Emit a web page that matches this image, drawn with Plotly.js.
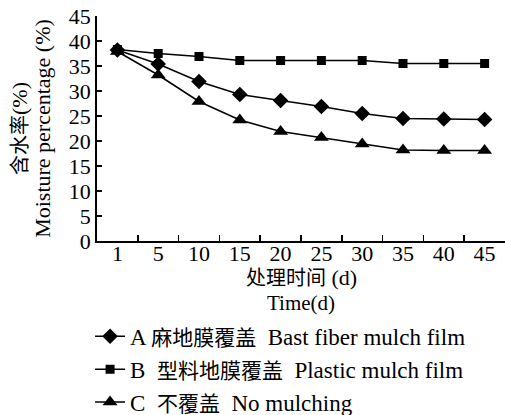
<!DOCTYPE html>
<html>
<head>
<meta charset="utf-8">
<script src="https://cdn.plot.ly/plotly-3.0.1.min.js"></script>
<style>html,body{margin:0;padding:0;background:#fff;}#chart{width:505px;height:415px;}</style>
</head>
<body>
<div id="chart"></div>
<script>
const days = ['1','5','10','15','20','25','30','35','40','45'];
const seriesA = [38.2, 35.4, 31.9, 29.3, 28.1, 26.9, 25.5, 24.5, 24.4, 24.3];
const seriesB = [38.3, 37.5, 36.9, 36.1, 36.1, 36.1, 36.1, 35.5, 35.5, 35.5];
const seriesC = [37.9, 33.2, 27.9, 24.2, 21.9, 20.7, 19.4, 18.2, 18.1, 18.1];
const cjk = s => '<span style="font-size:21px">' + s + '</span>';
const names = ['A ' + cjk('麻地膜覆盖') + '  Bast fiber mulch film',
               'B  ' + cjk('型料地膜覆盖') + '  Plastic mulch film',
               'C  ' + cjk('不覆盖') + '  No mulching'];
const yTitle = 'Moisture percentage (%)';
const yTitleCn = '<span style="font-size:20px">含水率</span>(%)';
const xTitleCn = '<span style="font-size:20px">处理时间</span> (d)';
const xTitleEn = 'Time(d)';

const FONT = 'Liberation Serif, Times New Roman, Noto Sans CJK SC, serif';
const line = {color: '#000', width: 1.5};
const traces = [
  {x: days, y: seriesA, name: names[0], mode: 'lines+markers', line: line, marker: {symbol: 'diamond', size: 12, color: '#000'}},
  {x: days, y: seriesB, name: names[1], mode: 'lines+markers', line: line, marker: {symbol: 'square', size: 9, color: '#000'}},
  {x: days, y: seriesC, name: names[2], mode: 'lines+markers', line: line, marker: {symbol: 'triangle-up', size: 13, color: '#000'}}
];

const ann = (text, x, y, angle, size) => ({
  text: text, textangle: angle, xref: 'paper', yref: 'paper', x: x, y: y,
  xanchor: 'center', yanchor: 'middle', showarrow: false,
  font: {family: FONT, size: size, color: '#000'}
});

const layout = {
  width: 505, height: 415,
  margin: {l: 97, r: 0, t: 16, b: 174, autoexpand: false},
  paper_bgcolor: '#fff', plot_bgcolor: '#fff',
  font: {family: FONT, size: 22, color: '#000'},
  showlegend: true,
  legend: {x: -0.017, xanchor: 'left', y: -0.328, yanchor: 'top', orientation: 'v',
           font: {family: FONT, size: 23, color: '#000'}, itemwidth: 30, tracegroupgap: 0,
           bgcolor: 'rgba(0,0,0,0)', borderwidth: 0},
  xaxis: {
    type: 'category', tickson: 'boundaries', ticks: 'inside', ticklen: 6, tickcolor: '#000', tickwidth: 1.5,
    showline: true, linecolor: '#000', linewidth: 1.8, showgrid: false, zeroline: false,
    tickfont: {family: FONT, size: 22}, ticklabelstandoff: -8,
    range: [-0.5, 9.5]
  },
  yaxis: {
    range: [0, 45], dtick: 5, tick0: 0, ticks: 'inside', ticklen: 5, tickcolor: '#000', tickwidth: 1.5,
    showline: true, linecolor: '#000', linewidth: 1.8, showgrid: false, zeroline: false,
    tickfont: {family: FONT, size: 22},
    title: {text: yTitle, font: {family: FONT, size: 22}, standoff: 12}
  },
  annotations: [
    ann(yTitleCn, -0.19, 0.5, -90, 22),
    ann(xTitleCn, 0.5, -0.163, 0, 22),
    ann(xTitleEn, 0.5, -0.275, 0, 21)
  ]
};

Plotly.newPlot('chart', traces, layout, {displayModeBar: false, staticPlot: true});
</script>
</body>
</html>
